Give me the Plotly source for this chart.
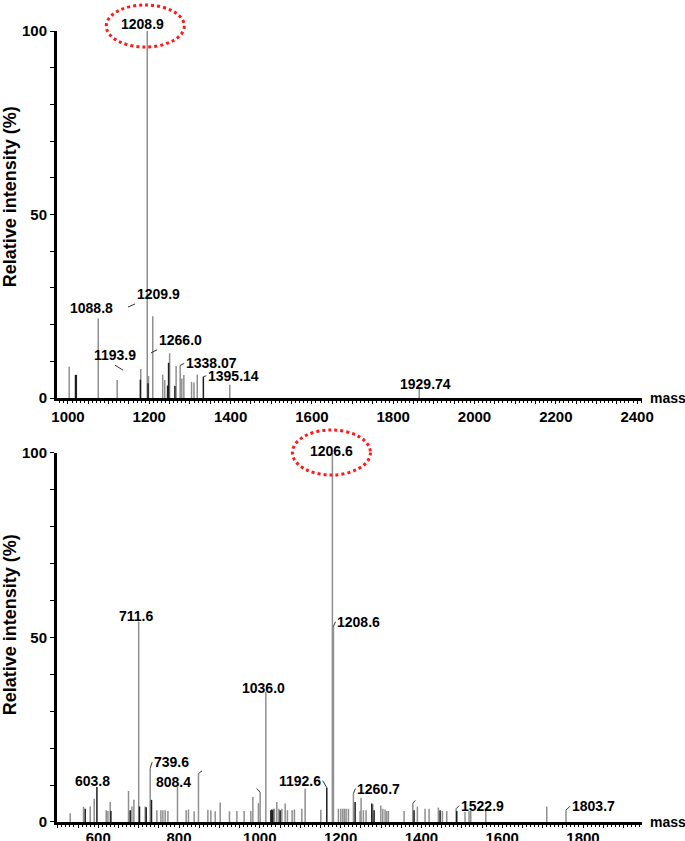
import plotly.graph_objects as go

# ---- upper spectrum (m/z, relative intensity %) ----
top_grey_mz = [1003, 1074.5, 1121, 1179, 1195, 1198, 1208.5, 1233, 1238, 1250,
               1266, 1276, 1280, 1285, 1304, 1310, 1318, 1398, 1864]
top_grey_int = [8.5, 21.7, 4.9, 7.9, 100, 6, 22.3, 6.4, 4.9, 12.2,
                8.7, 8.9, 5.3, 6.3, 4.4, 4.2, 6.4, 3.6, 2.7]
top_dark_mz = [1018.5, 1020.5, 1178, 1197, 1245, 1247.5, 1263, 1333]
top_dark_int = [6.3, 6.3, 5, 4, 3.4, 9.6, 3.3, 5.8]

top_label_text = ["1208.9", "1088.8", "1209.9", "1193.9", "1266.0", "1338.07", "1395.14", "1929.74"]
top_label_mz = [1195, 1074.5, 1147.6, 1135.3, 1204.2, 1276, 1333, 1864]
top_label_int = [100, 21.7, 24.8, 7.6, 12.3, 8.9, 5.8, 2.7]

# ---- lower spectrum ----
bot_grey_mz = [530.7, 563.6, 580.2, 590.1, 619.8, 624, 629.7, 675, 683.4, 688.3,
               700.2, 716.3, 728.7, 745.2, 755.1, 760.1, 765.8, 772.5, 796.2, 817.7,
               823.4, 837.5, 848.2, 871.4, 878.8, 889.5, 901.9, 924.9, 943.2, 961.2,
               977.8, 982.8, 996.6, 1000.8, 1014.9, 1033.7, 1036.2, 1042.1, 1047.1, 1054.5,
               1062.7, 1068.4, 1080, 1085.7, 1104, 1112.2, 1151, 1179.7, 1182.2, 1194.6,
               1200.5, 1205.4, 1209.4, 1213.6, 1219.3, 1231.7, 1248.2, 1250.7, 1256.4, 1263.1,
               1279.7, 1299.5, 1304.4, 1310.1, 1314.3, 1318.3, 1357.1, 1378.6, 1390, 1409,
               1419, 1442, 1451.9, 1462.8, 1485.8, 1508, 1517.9, 1522.1, 1559.3, 1710.2,
               1757.9]
bot_grey_int = [2.4, 4.1, 4.2, 6.3, 3.2, 3, 5.4, 8.4, 4.2, 6,
                54.3, 4.2, 14.6, 3.2, 3.2, 3.2, 3.2, 3, 9.5, 3.2,
                3.4, 2.9, 13.1, 3.3, 3.2, 2.9, 5.3, 2.9, 3, 3,
                3, 6.8, 5.1, 8.1, 35.3, 3.6, 3.6, 5.4, 3.6, 3.6,
                5, 3.2, 3.2, 3.4, 3.6, 9, 3.3, 100, 52.9, 3.6,
                3.6, 3.6, 3.6, 3.6, 3.6, 7.7, 3, 6.6, 3.2, 3.2,
                4.8, 4.5, 3.6, 3.4, 3, 3, 3, 5, 4.2, 3.6,
                3.6, 3.9, 3, 3, 3.6, 2.7, 3, 3, 3.6, 4.2,
                3.2]
bot_dark_mz = [567.8, 596.8, 631.4, 679.2, 702.2, 718.8, 731.9, 1027.3, 1029.7, 1031.7,
               1050.3, 1165.8, 1235.9, 1277.2, 1282.9, 1381.8, 1446.2, 1487.5]
bot_dark_int = [3.6, 9.5, 3, 3.2, 4.2, 4, 6, 3.2, 3.4, 3.2,
                3.2, 9.3, 5.4, 5, 3.2, 3.2, 3.2, 3]

bot_label_text = ["1206.6", "711.6", "1036.0", "808.4", "603.8", "1208.6", "739.6",
                  "1192.6", "1260.7", "1522.9", "1803.7", "", "", ""]
bot_label_mz = [1179.7, 700.2, 1014.9, 796.2, 596.8, 1182.2, 728.7,
                1165.8, 1231.7, 1485.8, 1757.9, 848.2, 1000.8, 1378.6]
bot_label_int = [100, 54.3, 35.3, 9.5, 9.5, 52.9, 14.6,
                 9.3, 7.7, 3.6, 3.2, 13.1, 8.1, 5]

# label placement: (arrow?, xshift/ax, yshift/ay, xanchor, yanchor)
top_label_pos = [
    (False, -5, 7.5, "center", "middle"),
    (False, -7, 10, "center", "middle"),
    (True, 7, -3, "left", "bottom"),
    (True, -8, -5, "center", "bottom"),
    (True, 6, -3, "left", "bottom"),
    (True, 4, -2, "left", "middle"),
    (True, 3, -1, "left", "middle"),
    (False, 6, 4, "center", "middle"),
]
bot_label_pos = [
    (False, -1, 2, "center", "middle"),
    (False, -2.5, 5.6, "center", "middle"),
    (False, -2, 4, "center", "middle"),
    (False, -4, 4.5, "center", "middle"),
    (False, -4, 6, "center", "middle"),
    (True, 2, -5, "left", "middle"),
    (True, 2, -6, "left", "middle"),
    (True, -4, -7, "right", "middle"),
    (True, 2, -5, "left", "middle"),
    (True, 3, -3, "left", "middle"),
    (True, 4, -4, "left", "middle"),
    (True, 5, -4, "center", "middle"),
    (True, -5, -5, "center", "middle"),
    (True, 4, -5, "center", "middle"),
]

FONT = "Arial, 'Liberation Sans', sans-serif"
GREY = "#8f8f8f"
DARK = "#1e1e1e"


def stems(mz, inten):
    xs, ys = [], []
    for m, v in zip(mz, inten):
        xs += [m, m, None]
        ys += [0, v, None]
    return xs, ys


fig = go.Figure()
for mz, inten, col, xa, ya in [
    (top_grey_mz, top_grey_int, GREY, "x", "y"),
    (top_dark_mz, top_dark_int, DARK, "x", "y"),
    (bot_grey_mz, bot_grey_int, GREY, "x2", "y2"),
    (bot_dark_mz, bot_dark_int, DARK, "x2", "y2"),
]:
    xs, ys = stems(mz, inten)
    fig.add_trace(go.Scatter(x=xs, y=ys, mode="lines", xaxis=xa, yaxis=ya,
                             line=dict(color=col, width=1.5), hoverinfo="skip",
                             showlegend=False))


def add_labels(texts, mzs, ints, pos, xref, yref):
    for t, m, v, (arrow, dx, dy, xan, yan) in zip(texts, mzs, ints, pos):
        common = dict(x=m, y=v, xref=xref, yref=yref, text=t if t else "\u200b",
                      font=dict(family=FONT, size=14, color="black", weight="bold"),
                      xanchor=xan, yanchor=yan)
        if arrow:
            fig.add_annotation(**common, showarrow=True, ax=dx, ay=dy,
                               arrowhead=0, arrowwidth=1, arrowcolor="#333333")
        else:
            fig.add_annotation(**common, showarrow=False, xshift=dx, yshift=dy)


add_labels(top_label_text, top_label_mz, top_label_int, top_label_pos, "x", "y")
add_labels(bot_label_text, bot_label_mz, bot_label_int, bot_label_pos, "x2", "y2")

# red dotted ellipses around the base peaks
for m, xref, yref, box in [(top_label_mz[0], "x", "y domain", (-41, 37, -16, 26)),
                           (bot_label_mz[0], "x2", "y2 domain", (-40, 38, -22, 23))]:
    fig.add_shape(type="circle", xref=xref, yref=yref, xsizemode="pixel", ysizemode="pixel",
                  xanchor=m, yanchor=1, x0=box[0], x1=box[1], y0=box[2], y1=box[3],
                  line=dict(color="#ff1a1a", width=3, dash="dot"))

# axis titles and "mass" labels
for ypos in [0.790, 0.249]:
    fig.add_annotation(x=-0.08, y=ypos, xref="paper", yref="paper", text="Relative intensity (%)",
                       textangle=-90, showarrow=False, xanchor="center", yanchor="middle",
                       font=dict(family=FONT, size=18, color="black", weight="bold"))
for yref in ["y", "y2"]:
    fig.add_annotation(x=1.01, y=0, xref="paper", yref=yref, text="mass", showarrow=False,
                       xanchor="left", yanchor="middle",
                       font=dict(family=FONT, size=14, color="black", weight="bold"))

tickfont = dict(family=FONT, size=15, color="black", weight="bold")


def xaxis_cfg(rng, domain_anchor, first, last, standoff):
    vals = list(range(first, last + 1, 50))
    return dict(range=rng, anchor=domain_anchor, showline=True, linewidth=3, linecolor="black",
                tickmode="array", tickvals=vals,
                ticktext=[str(v) if v % 200 == 0 else "" for v in vals],
                ticks="outside", ticklen=3, tickwidth=1, tickcolor="black",
                ticklabelstandoff=standoff,
                minor=dict(dtick=10, tick0=0, ticks="outside", ticklen=2, tickcolor="black"),
                showgrid=False, zeroline=False, tickfont=tickfont)


yvals = list(range(0, 101, 10))
yaxis_common = dict(range=[0, 100], showline=True, linewidth=3, linecolor="black",
                    tickmode="array", tickvals=yvals,
                    ticktext=[str(v) if v % 50 == 0 else "" for v in yvals],
                    ticks="outside", ticklen=4, tickwidth=1, tickcolor="black",
                    showgrid=False, zeroline=False, tickfont=tickfont)

fig.update_layout(
    width=685, height=841,
    margin=dict(l=57, r=43, t=31, b=19, autoexpand=False),
    paper_bgcolor="white", plot_bgcolor="white",
    xaxis=xaxis_cfg([973, 2412], "y", 1000, 2400, 0),
    yaxis=dict(yaxis_common, domain=[0.536, 1], anchor="x"),
    xaxis2=xaxis_cfg([498, 1946], "y2", 500, 1900, -3),
    yaxis2=dict(yaxis_common, domain=[0, 0.4665], anchor="x2"),
    showlegend=False,
)

# drop the default page margin so the figure fills the window exactly
fig.write_html("out.html", config={"displayModeBar": False},
               post_script="document.body.style.margin='0';")
